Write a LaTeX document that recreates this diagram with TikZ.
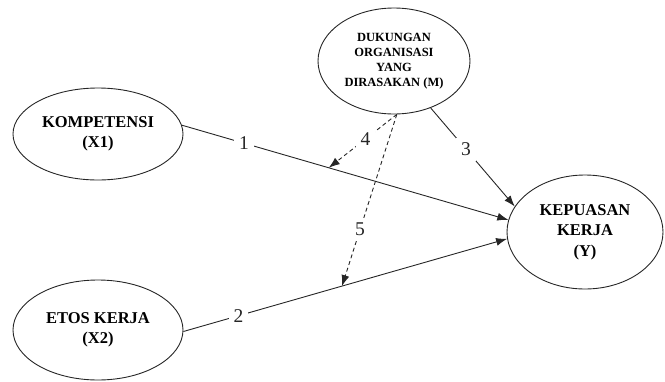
\documentclass[tikz,border=0pt]{standalone}
\usepackage{fontspec}
\setmainfont{Liberation Serif}
\usepackage{tikz}
\usetikzlibrary{shapes.geometric,arrows.meta}

\begin{document}
\begin{tikzpicture}[
  x=1pt, y=-1pt,
  var/.style={ellipse, draw=black!85, line width=0.9pt, align=center,
              inner sep=0pt, font=\fontsize{16.5}{20.5}\selectfont\bfseries},
  med/.style={var, font=\fontsize{12.5}{15}\selectfont\bfseries},
  num/.style={fill=white, inner sep=5pt, font=\fontsize{19.5}{21}\selectfont},
  arr/.style={-{Latex[length=11pt,width=8pt]}, line width=0.9pt, black!85},
  darr/.style={arr, dash pattern=on 4pt off 3pt}
]
\useasboundingbox (0,0) rectangle (665,381);

\node[var] (x1) at (98,134)  [minimum width=170pt, minimum height=92pt]  {KOMPETENSI\\(X1)};
\node[var] (x2) at (98,330)  [minimum width=170pt, minimum height=100pt] {ETOS KERJA\\(X2)};
\node[var] (y)  at (585,232) [minimum width=156pt, minimum height=114pt] {KEPUASAN\\KERJA\\(Y)};
\node[med] (m)  at (394,61)  [minimum width=152pt, minimum height=106pt]
           {DUKUNGAN\\ORGANISASI\\YANG\\DIRASAKAN (M)};

\draw[arr] (x1.6)   -- node[num, pos=.19] {1} coordinate[pos=.45] (p1) (y.171);
\draw[arr] (x2.-1)  -- node[num, pos=.17] {2} coordinate[pos=.49] (p2) (y.185);
\draw[arr] (m.-52)  -- node[num, pos=.42] {3} (y.160);

\draw[darr] (m.-87) -- node[num, pos=.46] {4} (p1);
\draw[darr] (m.-87) -- node[num, pos=.67] {5} (p2);

\end{tikzpicture}
\end{document}
